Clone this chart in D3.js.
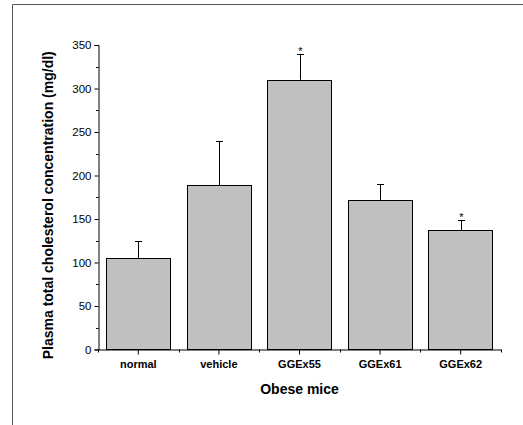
<!DOCTYPE html>
<html>
<head>
<meta charset="utf-8">
<script src="https://cdnjs.cloudflare.com/ajax/libs/d3/7.8.5/d3.min.js"></script>
<style>
  html, body { margin: 0; padding: 0; background: #fff; }
  svg { display: block; font-family: "Liberation Sans", Arial, sans-serif; }
</style>
</head>
<body>
<svg id="chart" width="523" height="425"></svg>
<script>
// Plasma total cholesterol by treatment group (mean + SD, mg/dl)
const groups = ["normal", "vehicle", "GGEx55", "GGEx61", "GGEx62"];
const means = [105, 189, 310, 172, 137];
const errors = [20, 51, 30, 18, 12];
const significant = [false, false, true, false, true];
const yTicks = [0, 50, 100, 150, 200, 250, 300, 350];
const yMinorTicks = [25, 75, 125, 175, 225, 275, 325];

const svg = d3.select("#chart");

// outer frame (only top and left edges fall inside the page)
svg.append("path")
  .attr("d", "M12.5,425 L12.5,4.5 L523,4.5")
  .attr("fill", "none")
  .attr("stroke", "#555")
  .attr("stroke-width", 1);

const x0 = 98, x1 = 501, yTop = 45, yBottom = 349.5;

const x = d3.scaleBand().domain(groups).range([x0, x1]).paddingInner(0.2).paddingOuter(0.1);
const xc = d3.scaleBand().domain(groups).range([x0, x1]).padding(0);
const y = d3.scaleLinear().domain([0, 350]).range([yBottom, yTop]);

const g = svg.append("g");

// bars
g.selectAll("rect.bar")
  .data(groups)
  .join("rect")
  .attr("class", "bar")
  .attr("x", d => Math.round(x(d)) + 0.5)
  .attr("width", Math.round(x.bandwidth()))
  .attr("y", (d, i) => Math.round(y(means[i])) + 0.5)
  .attr("height", (d, i) => yBottom - Math.round(y(means[i])) - 0.5)
  .attr("fill", "#c0c0c0")
  .attr("stroke", "#000")
  .attr("stroke-width", 1);

// upper error bars with caps
const cx = d => Math.round(xc(d) + xc.bandwidth() / 2) + 0.5;
const errG = g.selectAll("g.err").data(groups).join("g").attr("class", "err");
errG.append("line")
  .attr("x1", cx).attr("x2", cx)
  .attr("y1", (d, i) => y(means[i]))
  .attr("y2", (d, i) => Math.round(y(means[i] + errors[i])) + 0.5)
  .attr("stroke", "#000");
errG.append("line")
  .attr("x1", d => cx(d) - 3.5).attr("x2", d => cx(d) + 3.5)
  .attr("y1", (d, i) => Math.round(y(means[i] + errors[i])) + 0.5)
  .attr("y2", (d, i) => Math.round(y(means[i] + errors[i])) + 0.5)
  .attr("stroke", "#000");

// significance markers
g.selectAll("text.sig")
  .data(groups.filter((d, i) => significant[i]))
  .join("text")
  .attr("class", "sig")
  .attr("x", d => cx(d))
  .attr("y", d => { const i = groups.indexOf(d); return y(means[i] + errors[i]) + 1; })
  .attr("text-anchor", "middle")
  .attr("font-size", 11)
  .text("*");

// y axis
const yAxis = g.append("g").attr("transform", `translate(${x0 + 0.5},0)`)
  .call(d3.axisLeft(y).tickValues(yTicks).tickSize(4).tickPadding(3).tickFormat(d3.format("d")));
yAxis.select(".domain").attr("stroke", "#000");
yAxis.selectAll(".tick line").attr("stroke", "#000");
yAxis.selectAll("text").attr("font-size", 11.5).attr("fill", "#000")
  .attr("font-family", "Liberation Sans, Arial, sans-serif");
yAxis.append("g").selectAll("line")
  .data(yMinorTicks)
  .join("line")
  .attr("x1", -2.5).attr("x2", 0)
  .attr("y1", d => Math.round(y(d)) + 0.5)
  .attr("y2", d => Math.round(y(d)) + 0.5)
  .attr("stroke", "#000");

// x axis
const xAxis = g.append("g").attr("transform", `translate(0,${Math.round(yBottom) - 0.5})`)
  .call(d3.axisBottom(xc).tickSize(5).tickPadding(6).tickSizeOuter(0));
xAxis.select(".domain").attr("stroke", "#000");
xAxis.selectAll(".tick line").attr("stroke", "#000");
xAxis.selectAll("text").attr("font-size", 11).attr("font-weight", "bold").attr("fill", "#000")
  .attr("font-family", "Liberation Sans, Arial, sans-serif");
xAxis.append("g").selectAll("line")
  .data(groups.map(d => xc(d)).concat([x1]))
  .join("line")
  .attr("x1", d => Math.round(d) + 0.5).attr("x2", d => Math.round(d) + 0.5)
  .attr("y1", 0).attr("y2", 3)
  .attr("stroke", "#000");

// axis titles
svg.append("text")
  .attr("x", (x0 + x1) / 2)
  .attr("y", 394)
  .attr("text-anchor", "middle")
  .attr("font-size", 14)
  .attr("font-weight", "bold")
  .text("Obese mice");

svg.append("text")
  .attr("transform", `translate(53,${(yTop + yBottom) / 2 + 8}) rotate(-90)`)
  .attr("text-anchor", "middle")
  .attr("font-size", 14)
  .attr("font-weight", "bold")
  .text("Plasma total cholesterol concentration (mg/dl)");
</script>
</body>
</html>
